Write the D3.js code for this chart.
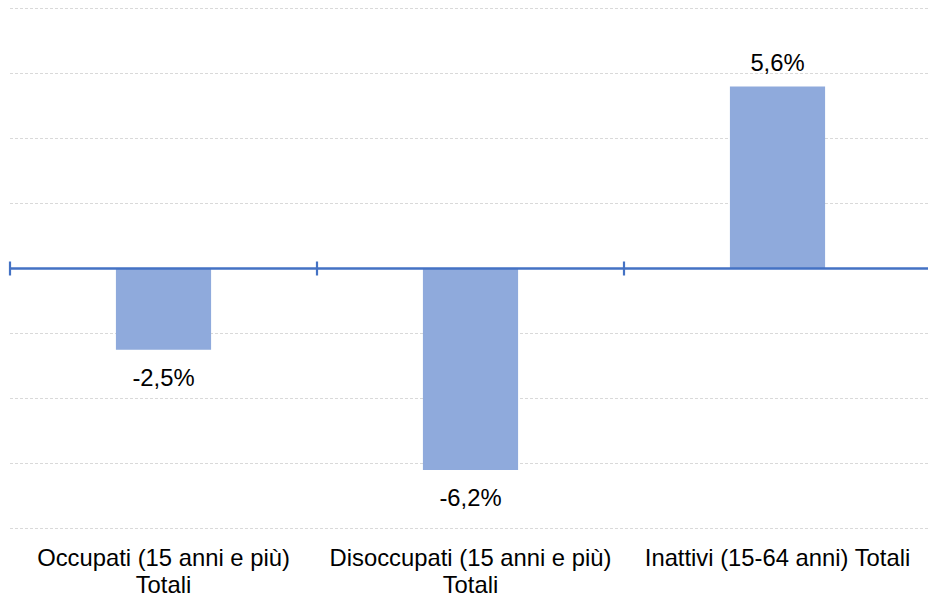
<!DOCTYPE html>
<html>
<head>
<meta charset="utf-8">
<script src="https://cdn.jsdelivr.net/npm/d3@7"></script>
<style>
  body { margin: 0; background: #fff; }
  text { font-family: Arial, "Liberation Sans", sans-serif; fill: #000; }
</style>
</head>
<body>
<div id="chart"></div>
<script>
// data (variation in %)
var categories = ["Occupati (15 anni e più) Totali", "Disoccupati (15 anni e più) Totali", "Inattivi (15-64 anni) Totali"];
var values = [-2.5, -6.2, 5.6];
var gridTicks = [-8, -6, -4, -2, 2, 4, 6, 8];

var width = 928,
    height = 599,
    margin = {top: 8.5, right: -3, bottom: 70.5, left: 10},
    fontSize = 23.8;

var itLocale = d3.formatLocale({decimal: ",", thousands: ".", grouping: [3], currency: ["€", ""], minus: "-"});
var fmt = itLocale.format(".1f");

var svg = d3.select("#chart").append("svg")
    .attr("width", width)
    .attr("height", height);

var x = d3.scaleBand()
    .domain(categories)
    .range([margin.left, width - margin.right])
    .paddingInner(0)
    .paddingOuter(0);

var y = d3.scaleLinear()
    .domain([-8, 8])
    .range([height - margin.bottom, margin.top]);

var barWidth = x.bandwidth() * 0.31;

// gridlines
svg.append("g").attr("class", "grid")
  .selectAll("line").data(gridTicks)
  .enter().append("line")
    .attr("x1", margin.left)
    .attr("x2", width)
    .attr("y1", function(d) { return y(d); })
    .attr("y2", function(d) { return y(d); })
    .style("stroke", "#d9d9d9")
    .style("stroke-width", 1)
    .style("stroke-dasharray", "3,2");

// bars
svg.append("g").attr("class", "bars")
  .selectAll("rect").data(values)
  .enter().append("rect")
    .attr("x", function(d, i) { return x(categories[i]) + (x.bandwidth() - barWidth) / 2; })
    .attr("y", function(d) { return y(Math.max(0, d)); })
    .attr("width", barWidth)
    .attr("height", function(d) { return Math.abs(y(d) - y(0)); })
    .style("fill", "#8faadc");

// zero axis with category ticks
var axisG = svg.append("g").attr("class", "axis");
axisG.append("line")
    .attr("x1", margin.left)
    .attr("x2", width)
    .attr("y1", y(0))
    .attr("y2", y(0))
    .style("stroke", "#4472c4")
    .style("stroke-width", 2.4);

axisG.selectAll(".tick").data(categories)
  .enter().append("line")
    .attr("class", "tick")
    .attr("x1", function(d) { return x(d); })
    .attr("x2", function(d) { return x(d); })
    .attr("y1", y(0) - 7)
    .attr("y2", y(0) + 7)
    .style("stroke", "#4472c4")
    .style("stroke-width", 2.2);

// value labels
svg.append("g").attr("class", "labels")
  .selectAll("text").data(values)
  .enter().append("text")
    .attr("x", function(d, i) { return x(categories[i]) + x.bandwidth() / 2; })
    .attr("y", function(d) { return d >= 0 ? y(d) - 16 : y(d) + 36; })
    .attr("text-anchor", "middle")
    .style("font-size", fontSize + "px")
    .text(function(d) { return fmt(d) + "%"; });

// category labels, wrapped to band width
var catG = svg.append("g").attr("class", "categories")
  .selectAll("text").data(categories)
  .enter().append("text")
    .attr("text-anchor", "middle")
    .style("font-size", fontSize + "px")
    .attr("x", function(d) { return x(d) + x.bandwidth() / 2; })
    .attr("y", 566);

catG.each(function(d) {
  var text = d3.select(this),
      words = d.split(" "),
      cx = text.attr("x"),
      line = [],
      tspan = text.append("tspan").attr("x", cx).attr("dy", 0);
  words.forEach(function(w) {
    line.push(w);
    tspan.text(line.join(" "));
    if (tspan.node().getComputedTextLength() > x.bandwidth() - 6 && line.length > 1) {
      line.pop();
      tspan.text(line.join(" "));
      line = [w];
      tspan = text.append("tspan").attr("x", cx).attr("dy", 26.5).text(w);
    }
  });
});
</script>
</body>
</html>
